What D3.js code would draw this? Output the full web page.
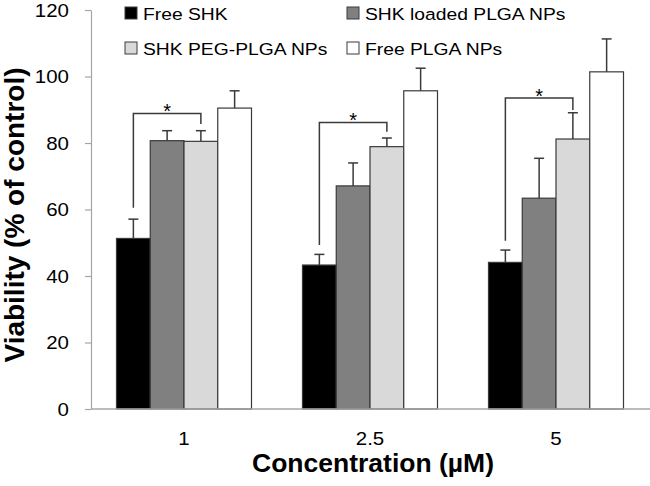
<!DOCTYPE html>
<html><head><meta charset="utf-8">
<script src="https://cdn.jsdelivr.net/npm/d3@7"></script>
<style>body{margin:0;background:#fff}svg{display:block}text{font-family:"Liberation Sans",Arial,sans-serif}</style>
</head><body><svg id="c" width="650" height="486"></svg>
<script>
const categories = ["1", "2.5", "5"];
const seriesNames = ["Free SHK", "SHK loaded PLGA NPs", "SHK PEG-PLGA NPs", "Free PLGA NPs"];
const freeSHK = [51.3, 43.3, 44.1];
const shkLoadedPLGA = [80.7, 67.1, 63.4];
const shkPEGPLGA = [80.5, 78.9, 81.2];
const freePLGA = [90.5, 95.7, 101.4];
const freeSHKErr = [5.8, 3.2, 3.7];
const shkLoadedPLGAErr = [3.0, 6.9, 12.0];
const shkPEGPLGAErr = [3.2, 2.6, 7.9];
const freePLGAErr = [5.2, 6.8, 9.9];
const yTicks = [0, 20, 40, 60, 80, 100, 120];
// significance brackets: category, from series, to series, bracket top, left leg end, right leg end
const brackets = [
  {cat: "1", from: 0, to: 2, top: 88.9, left: 60.5, right: 85.7},
  {cat: "2.5", from: 0, to: 2, top: 86.2, left: 49.3, right: 83.4},
  {cat: "5", from: 0, to: 2, top: 93.5, left: 50.6, right: 89.9}
];
const colors = ["#000000", "#808080", "#d9d9d9", "#ffffff"];

const values = [freeSHK, shkLoadedPLGA, shkPEGPLGA, freePLGA];
const errs = [freeSHKErr, shkLoadedPLGAErr, shkPEGPLGAErr, freePLGAErr];
const rows = [];
categories.forEach((c, i) => seriesNames.forEach((s, j) => rows.push({cat: c, si: j, v: values[j][i], e: errs[j][i]})));

const SX = 1.17; // horizontal stretch of regular text in the original figure
const svg = d3.select("#c");
const x0 = d3.scaleBand().domain(categories).range([91, 649]).padding(0);
const x1 = d3.scaleBand().domain(d3.range(4)).range([25.5, x0.bandwidth() - 25.5]).padding(0);
const y = d3.scaleLinear().domain([0, 120]).range([409, 10]);

// y axis
const ya = svg.append("g").attr("transform", "translate(91,0)")
  .call(d3.axisLeft(y).tickValues(yTicks).tickSize(6).tickPadding(15).tickSizeOuter(0));
ya.select(".domain").attr("stroke", "#a6a6a6").attr("stroke-width", 1.2);
ya.selectAll(".tick line").attr("stroke", "#a6a6a6").attr("stroke-width", 1.2);
ya.selectAll(".tick text").attr("font-size", 17.5).attr("fill", "#000")
  .attr("font-family", "Liberation Sans, Arial")
  .attr("x", 0).attr("dy", "0.36em").attr("transform", `translate(-22,0) scale(${SX},1)`);

// bars
const g = svg.append("g");
g.selectAll("rect").data(rows).join("rect")
  .attr("x", d => x0(d.cat) + x1(d.si))
  .attr("y", d => y(d.v))
  .attr("width", x1.bandwidth())
  .attr("height", d => y(0) - y(d.v))
  .attr("fill", d => colors[d.si])
  .attr("stroke", "#3a3a3a").attr("stroke-width", 1.2);

// error bars (upper only)
const eb = svg.append("g").attr("stroke", "#3a3a3a").attr("stroke-width", 1.5);
rows.forEach(d => {
  const cx = x0(d.cat) + x1(d.si) + x1.bandwidth() / 2;
  eb.append("line").attr("x1", cx).attr("x2", cx).attr("y1", y(d.v)).attr("y2", y(d.v + d.e));
  eb.append("line").attr("x1", cx - 5).attr("x2", cx + 5).attr("y1", y(d.v + d.e)).attr("y2", y(d.v + d.e));
});

// x axis line
svg.append("line").attr("x1", 91).attr("x2", 650).attr("y1", y(0)).attr("y2", y(0))
  .attr("stroke", "#a6a6a6").attr("stroke-width", 1.5);

// x tick labels
svg.append("g").selectAll("text").data(categories).join("text")
  .attr("transform", d => `translate(${x0(d) + x0.bandwidth() / 2},444.5) scale(${SX},1)`)
  .attr("text-anchor", "middle").attr("font-size", 17.5).text(d => d);

// brackets
const br = svg.append("g");
brackets.forEach(b => {
  const xl = x0(b.cat) + x1(b.from) + x1.bandwidth() / 2;
  const xr = x0(b.cat) + x1(b.to) + x1.bandwidth() / 2;
  br.append("path").attr("d", `M${xl},${y(b.left)}V${y(b.top)}H${xr}V${y(b.right)}`)
    .attr("fill", "none").attr("stroke", "#3a3a3a").attr("stroke-width", 1.5);
  br.append("text").attr("x", (xl + xr) / 2).attr("y", y(b.top) + 5)
    .attr("text-anchor", "middle").attr("font-size", 20).text("*");
});

// axis titles
svg.append("text").attr("x", 373).attr("y", 472).attr("text-anchor", "middle")
  .attr("font-size", 26.5).attr("font-weight", "bold").text("Concentration (\u00b5M)");
svg.append("text").attr("transform", "translate(24,215) rotate(-90)").attr("text-anchor", "middle")
  .attr("font-size", 28).attr("font-weight", "bold").text("Viability (% of control)");

// legend
const legPos = [[125, 13], [347, 13], [125, 48], [347, 48]];
const lg = svg.append("g");
seriesNames.forEach((s, i) => {
  const [lx, ly] = legPos[i];
  lg.append("rect").attr("x", lx).attr("y", ly - 6).attr("width", 12).attr("height", 12)
    .attr("fill", colors[i]).attr("stroke", "#3a3a3a").attr("stroke-width", 1);
  lg.append("text").attr("transform", `translate(${lx + 18},${ly + 6.5}) scale(${SX},1)`)
    .attr("font-size", 16.5).text(s);
});
</script></body></html>
